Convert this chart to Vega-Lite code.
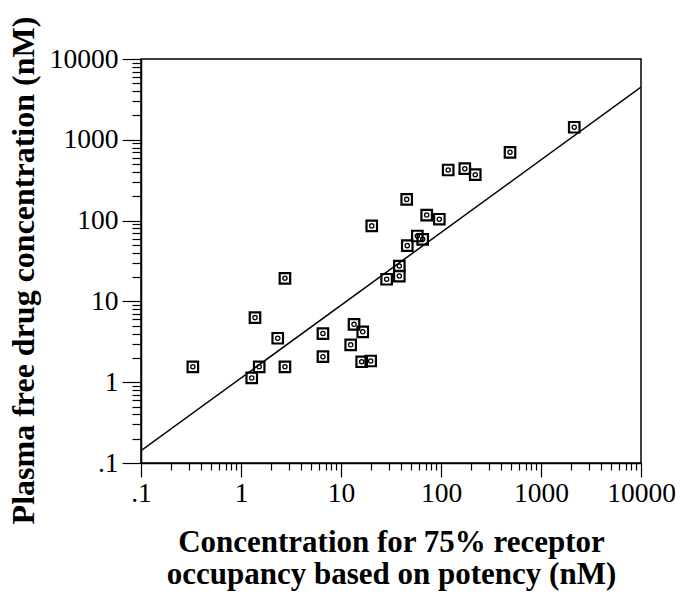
{
  "$schema": "https://vega.github.io/schema/vega-lite/v6.json",
  "width": 500,
  "height": 404,
  "autosize": {"type": "none"},
  "padding": {"left": 141, "top": 59, "right": 40, "bottom": 129},
  "background": "white",
  "config": {
    "view": {"stroke": "black", "strokeWidth": 1.5},
    "axis": {
      "grid": false,
      "domainColor": "black",
      "domainWidth": 1.5,
      "tickColor": "black",
      "tickWidth": 1.2,
      "labelColor": "black",
      "labelFont": "Liberation Serif",
      "labelFontSize": 27.5,
      "labelOverlap": false,
      "labelFlush": false,
      "labelBound": false,
      "titleColor": "black",
      "titleFont": "Liberation Serif",
      "titleFontWeight": "bold",
      "titleFontSize": 31
    }
  },
  "datasets": {
    "points": [
      {"x": 0.33, "y": 1.55},
      {"x": 1.28, "y": 1.13},
      {"x": 1.38, "y": 6.3},
      {"x": 1.52, "y": 1.55},
      {"x": 2.33, "y": 3.5},
      {"x": 2.75, "y": 19.3},
      {"x": 2.75, "y": 1.55},
      {"x": 6.6, "y": 4.0},
      {"x": 6.6, "y": 2.07},
      {"x": 12.5, "y": 2.9},
      {"x": 13.5, "y": 5.2},
      {"x": 16.5, "y": 4.2},
      {"x": 16.1, "y": 1.79},
      {"x": 19.8, "y": 1.83},
      {"x": 20.3, "y": 86},
      {"x": 28.6, "y": 18.8},
      {"x": 38.3, "y": 20.6},
      {"x": 38.3, "y": 27.4},
      {"x": 46, "y": 49},
      {"x": 45.4, "y": 183},
      {"x": 58, "y": 64.5},
      {"x": 65.6, "y": 58.7},
      {"x": 71.9, "y": 117},
      {"x": 96.2, "y": 104},
      {"x": 118, "y": 423},
      {"x": 173, "y": 439},
      {"x": 220, "y": 370},
      {"x": 490, "y": 700},
      {"x": 2150, "y": 1430}
    ],
    "fit": [
      {"x": 0.1, "y": 0.142},
      {"x": 10000, "y": 4490}
    ]
  },
  "layer": [
    {
      "data": {"name": "fit"},
      "mark": {"type": "line", "color": "black", "strokeWidth": 1.5, "clip": true},
      "encoding": {
        "x": {
          "field": "x",
          "type": "quantitative",
          "scale": {"type": "log", "domain": [0.1, 10000], "nice": false},
          "axis": {
            "orient": "bottom",
            "values": [0.1,0.2,0.3,0.4,0.5,0.6,0.7,0.8,0.9,1,2,3,4,5,6,7,8,9,10,20,30,40,50,60,70,80,90,100,200,300,400,500,600,700,800,900,1000,2000,3000,4000,5000,6000,7000,8000,9000,10000],
            "labelExpr": "datum.value == 0.1 ? '.1' : (indexof([1,10,100,1000,10000], datum.value) >= 0 ? format(datum.value, 'd') : '')",
            "tickSize": {"condition": {"test": "indexof([0.1,1,10,100,1000,10000], datum.value) >= 0", "value": 14}, "value": 7},
            "labelPadding": 2,
            "title": ["Concentration for 75% receptor", "occupancy based on potency (nM)"],
            "titleLineHeight": 32,
            "titleX": 250,
            "titleY": 88,
            "titleAlign": "center",
            "titleBaseline": "alphabetic"
          }
        },
        "y": {
          "field": "y",
          "type": "quantitative",
          "scale": {"type": "log", "domain": [0.1, 10000], "nice": false},
          "axis": {
            "orient": "left",
            "values": [0.1,0.2,0.3,0.4,0.5,0.6,0.7,0.8,0.9,1,2,3,4,5,6,7,8,9,10,20,30,40,50,60,70,80,90,100,200,300,400,500,600,700,800,900,1000,2000,3000,4000,5000,6000,7000,8000,9000,10000],
            "labelExpr": "datum.value == 0.1 ? '.1' : (indexof([1,10,100,1000,10000], datum.value) >= 0 ? format(datum.value, 'd') : '')",
            "tickSize": {"condition": {"test": "indexof([0.1,1,10,100,1000,10000], datum.value) >= 0", "value": 19}, "value": 9},
            "labelPadding": 4,
            "labelBaseline": "middle",
            "title": "Plasma free drug concentration (nM)",
            "titleFontSize": 32,
            "titleAngle": -90,
            "titleX": -108,
            "titleY": 211,
            "titleAlign": "center",
            "titleBaseline": "alphabetic"
          }
        }
      }
    },
    {
      "data": {"name": "points"},
      "mark": {"type": "point", "shape": "square", "filled": false, "color": "black", "size": 110, "strokeWidth": 2.2, "opacity": 1},
      "encoding": {
        "x": {"field": "x", "type": "quantitative"},
        "y": {"field": "y", "type": "quantitative"}
      }
    },
    {
      "data": {"name": "points"},
      "mark": {"type": "point", "shape": "circle", "filled": false, "color": "black", "size": 18, "strokeWidth": 1.3, "opacity": 1},
      "encoding": {
        "x": {"field": "x", "type": "quantitative"},
        "y": {"field": "y", "type": "quantitative"}
      }
    }
  ]
}
